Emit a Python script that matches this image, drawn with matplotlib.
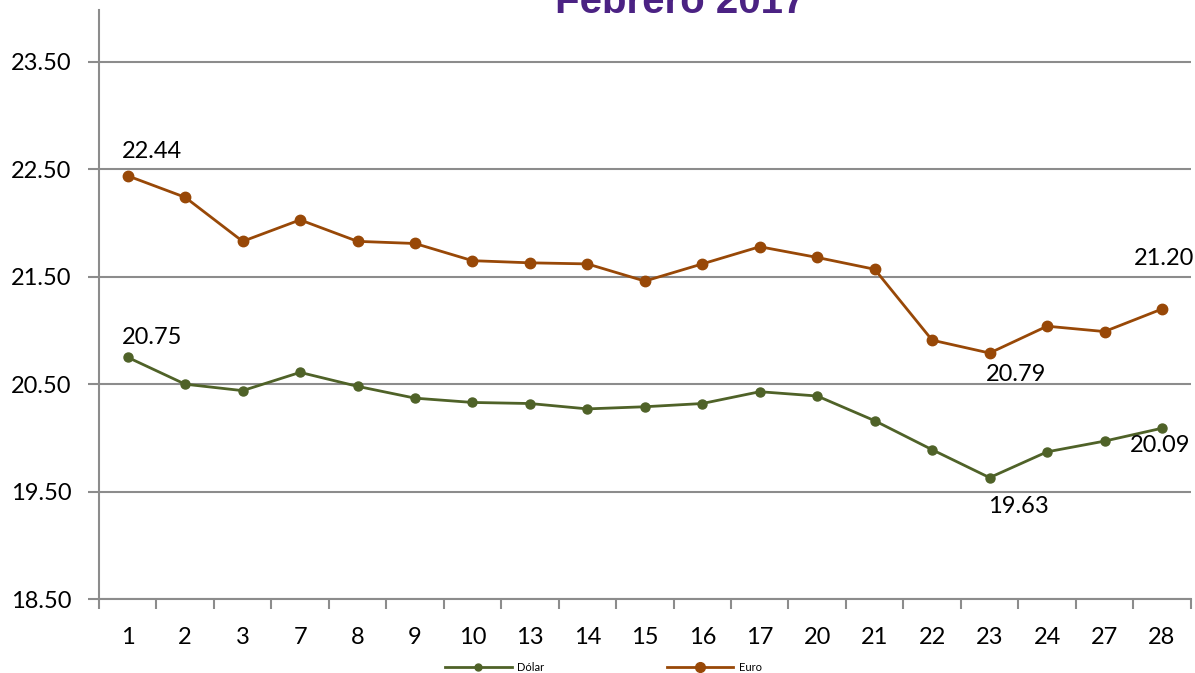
import matplotlib
matplotlib.use("Agg")
import matplotlib.pyplot as plt

days = ["1", "2", "3", "7", "8", "9", "10", "13", "14", "15", "16", "17", "20", "21", "22", "23", "24", "27", "28"]
dolar = [20.75, 20.50, 20.44, 20.61, 20.48, 20.37, 20.33, 20.32, 20.27, 20.29, 20.32, 20.43, 20.39, 20.16, 19.89, 19.63, 19.87, 19.97, 20.09]
euro = [22.44, 22.24, 21.83, 22.03, 21.83, 21.81, 21.65, 21.63, 21.62, 21.46, 21.62, 21.78, 21.68, 21.57, 20.91, 20.79, 21.04, 20.99, 21.20]
yticks = [18.5, 19.5, 20.5, 21.5, 22.5, 23.5]

c_dol = "#4f6228"
c_eur = "#984807"
axis_c = "#8c8c8c"

plt.rcParams['font.family'] = ['Lato', 'DejaVu Sans']

fig = plt.figure(figsize=(11.95, 6.73), dpi=100)
ax = fig.add_axes([99/1195, 74/673, (1190.7-99)/1195, 589/673])
x = list(range(len(days)))
ax.plot(x, dolar, color=c_dol, lw=2, marker='o', ms=6.5, label="Dólar", zorder=3)
ax.plot(x, euro, color=c_eur, lw=2, marker='o', ms=7.5, label="Euro", zorder=3)

ax.set_xlim(-0.5, len(days) - 0.5)
ax.set_ylim(18.5, 23.984)
ax.set_yticks(yticks)
ax.set_yticklabels([f"{v:.2f}" for v in yticks], fontsize=17)
ax.set_xticks(x)
ax.set_xticklabels(days, fontsize=17)
ax.set_xticks([i - 0.5 for i in range(len(days) + 1)], minor=True)
ax.tick_params(axis='x', which='major', length=0, pad=20)
ax.tick_params(axis='x', which='minor', length=7, width=1.5, color=axis_c, direction='out')
ax.tick_params(axis='y', length=8, width=1.5, color=axis_c, direction='out', pad=12)
ax.grid(axis='y', color=axis_c, lw=1.5)
ax.set_axisbelow(True)
for s in ['top', 'right']:
    ax.spines[s].set_visible(False)
for s in ['left', 'bottom']:
    ax.spines[s].set_color(axis_c)
    ax.spines[s].set_linewidth(1.5)

def lab(i, vals, dx, dy):
    ax.annotate(f"{vals[i]:.2f}", (x[i], vals[i]), xytext=(dx, dy), textcoords='offset pixels',
                ha='center', va='center', fontsize=17)

lab(0, euro, 24, 24)
lab(0, dolar, 24, 20)
lab(18, euro, 2, 51)
lab(15, euro, 26, -21)
lab(15, dolar, 29, -29)
lab(18, dolar, -2, -17)

fig.text(680/1195, 1 - 2/673, "Febrero 2017", ha='center', va='center', fontsize=29,
         fontweight='bold', color="#4b2283", family=['Liberation Sans', 'DejaVu Sans'])

leg = fig.legend(loc='lower center', bbox_to_anchor=(0.505, -0.015), ncol=2, frameon=False, fontsize=8,
           handlelength=6, columnspacing=11, handletextpad=0.5)
leg.get_lines()[0].set_markersize(5)
leg.get_lines()[1].set_markersize(7)

fig.savefig("out.png", dpi=100)
